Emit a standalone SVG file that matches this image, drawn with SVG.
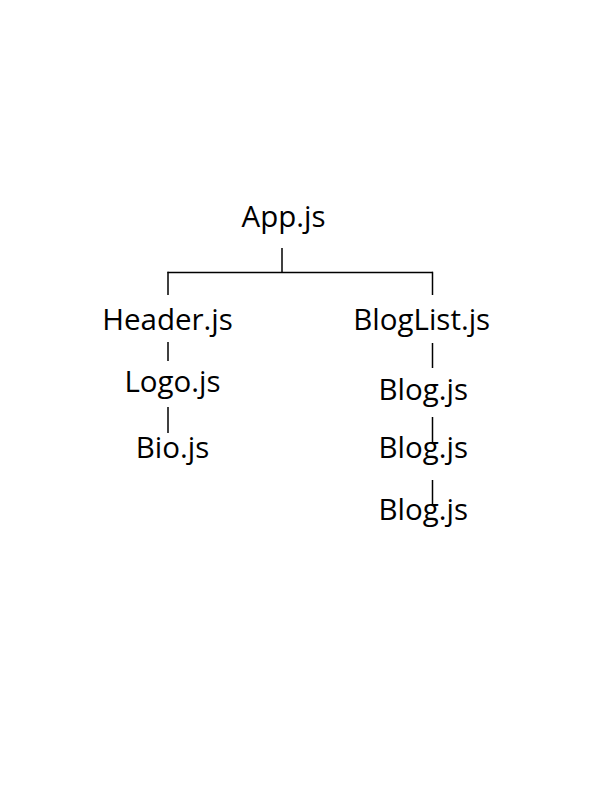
<svg xmlns="http://www.w3.org/2000/svg" width="612" height="792" viewBox="0 0 612 792">
<style>
text{font-family:"Open Sans","Noto Sans",sans-serif;font-size:29.5px;fill:#000;text-anchor:middle}
.c line{stroke:#000;stroke-width:1.5}
</style>
<rect width="612" height="792" fill="#fff"/>
<g class="c" id="connectors">
<line x1="282" y1="248" x2="282" y2="272.5"/>
<line x1="167.5" y1="272.5" x2="433" y2="272.5"/>
<line x1="168" y1="271.8" x2="168" y2="295"/>
<line x1="432.5" y1="271.8" x2="432.5" y2="295"/>
<line x1="168" y1="342" x2="168" y2="361"/>
<line x1="168" y1="407" x2="168" y2="433"/>
<line x1="432.5" y1="343" x2="432.5" y2="368"/>
<line x1="432.5" y1="417" x2="432.5" y2="442"/>
<line x1="432.5" y1="480" x2="432.5" y2="505"/>
</g>
<g id="app"><text x="283.5" y="227">App.js</text></g>
<g id="header"><text x="167.5" y="330">Header.js</text></g>
<g id="bloglist"><text x="421.7" y="330">BlogList.js</text></g>
<g id="logo"><text x="172.5" y="392">Logo.js</text></g>
<g id="bio"><text x="172.5" y="458">Bio.js</text></g>
<g id="blog1"><text x="423.3" y="400">Blog.js</text></g>
<g id="blog2"><text x="423.3" y="458">Blog.js</text></g>
<g id="blog3"><text x="423.3" y="520">Blog.js</text></g>
</svg>
